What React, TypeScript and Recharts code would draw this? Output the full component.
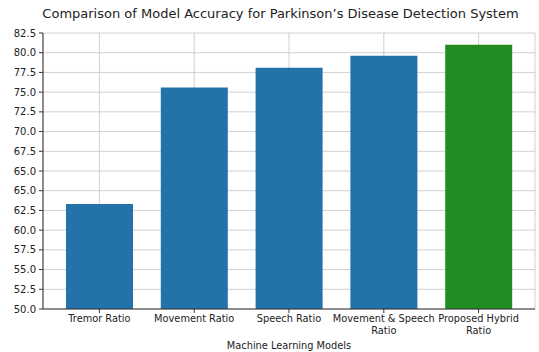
import React from 'react';
import { BarChart, Bar, XAxis, YAxis, CartesianGrid, Cell, Label } from 'recharts';

const categories = ['Tremor Ratio', 'Movement Ratio', 'Speech Ratio', 'Movement & Speech\nRatio', 'Proposed Hybrid\nRatio'];
const accuracy = [63.3, 78.1, 80.6, 82.1, 83.5];
const barColors = ['#2372aa', '#2372aa', '#2372aa', '#2372aa', '#228b22'];
const yTicks = [50, 52.5, 55, 57.5, 60, 62.5, 65, 67.5, 70, 72.5, 75, 77.5, 80, 82.5, 85];
const yTickLabels = ['50.0', '52.5', '55.0', '57.5', '60.0', '62.5', '65.0', '65.0', '67.5', '70.0', '72.5', '75.0', '77.5', '80.0', '82.5'];

const data = categories.map((name, i) => ({ name, accuracy: accuracy[i] }));

const FONT = 'DejaVu Sans, sans-serif';

const CategoryTick = (props: any) => {
  const { x, y, payload } = props;
  const lines = String(payload.value).split('\n');
  return (
    <text x={x} y={y} textAnchor="middle" fontFamily={FONT} fontSize={9.8} fill="#222">
      {lines.map((line, i) => (
        <tspan key={i} x={x} dy={i === 0 ? '0.75em' : 11.5}>
          {line}
        </tspan>
      ))}
    </text>
  );
};

export default function App() {
  return (
    <div style={{ position: 'absolute', left: 0, top: 0, width: 539, height: 352, background: '#fff' }}>
      <div
        style={{
          position: 'absolute',
          left: 0,
          top: 5,
          width: 561,
          textAlign: 'center',
          fontFamily: FONT,
          fontSize: 13,
          color: '#222',
          lineHeight: '18px',
          whiteSpace: 'nowrap',
        }}
      >
        Comparison of Model Accuracy for Parkinson’s Disease Detection System
      </div>
      <BarChart width={539} height={352} data={data} margin={{ top: 33, right: 4, left: 0, bottom: 0 }}>
        <CartesianGrid stroke="#c4c4c4" strokeWidth={0.8} />
        <XAxis
          dataKey="name"
          height={43}
          padding={{ left: 9, right: 9 }}
          interval={0}
          tickSize={4}
          tickMargin={2}
          tick={<CategoryTick />}
          axisLine={{ stroke: '#333' }}
          tickLine={{ stroke: '#333' }}
        >
          <Label
            value="Machine Learning Models"
            position="insideBottom"
            offset={3}
            style={{ fontFamily: FONT, fontSize: 9.8, fill: '#222' }}
          />
        </XAxis>
        <XAxis
          xAxisId="top"
          dataKey="name"
          orientation="top"
          height={0}
          tick={false}
          tickLine={false}
          padding={{ left: 9, right: 9 }}
          axisLine={{ stroke: '#555' }}
        />
        <YAxis
          type="number"
          domain={[50, 85]}
          ticks={yTicks}
          width={43}
          interval={0}
          tickSize={4}
          tickMargin={3}
          tickFormatter={(v: number) => yTickLabels[yTicks.indexOf(v)]}
          tick={{ fontFamily: FONT, fontSize: 10, fill: '#222' }}
          axisLine={{ stroke: '#333' }}
          tickLine={{ stroke: '#333' }}
          allowDataOverflow
        />
        <YAxis
          yAxisId="right"
          orientation="right"
          type="number"
          domain={[50, 85]}
          width={0}
          tick={false}
          tickLine={false}
          axisLine={{ stroke: '#555' }}
        />
        <Bar dataKey="accuracy" barSize={67} isAnimationActive={false}>
          {data.map((d, i) => (
            <Cell key={d.name} fill={barColors[i]} />
          ))}
        </Bar>
      </BarChart>
    </div>
  );
}
